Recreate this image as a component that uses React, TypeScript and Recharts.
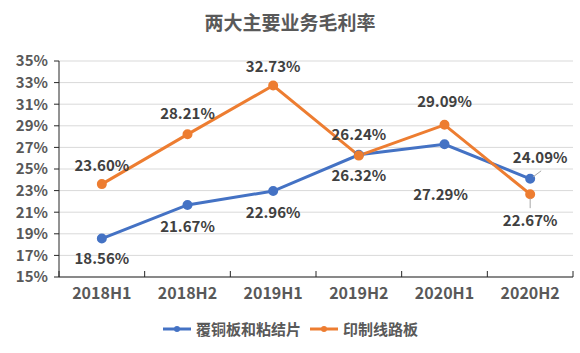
import { CartesianGrid, LabelList, Line, LineChart, XAxis, YAxis } from 'recharts'

const periods = ['2018H1', '2018H2', '2019H1', '2019H2', '2020H1', '2020H2']
const cclMargin = [18.56, 21.67, 22.96, 26.32, 27.29, 24.09]
const pcbMargin = [23.6, 28.21, 32.73, 26.24, 29.09, 22.67]
const yTicks = [15, 17, 19, 21, 23, 25, 27, 29, 31, 33, 35]

const BLUE = '#4472C4'
const ORANGE = '#ED7D31'
const FONT = '"Noto Sans CJK SC", "Noto Sans", sans-serif'

const data = periods.map((p, i) => ({ period: p, ccl: cclMargin[i], pcb: pcbMargin[i] }))

// label offsets per point, tuned to the reference
const pcbOffsets: [number, number][] = [[0, -20], [0, -22], [0, -20], [0, -22], [0, -24], [0, 25]]
const cclOffsets: [number, number][] = [[0, 19], [0, 21], [0, 20], [0, 20], [-4, 49], [10, -22]]

function makeLabel(offsets: [number, number][], leader?: { index: number; d: [number, number, number, number] }) {
  return (props: any) => {
    const { x, y, value, index } = props
    const [dx, dy] = offsets[index] ?? [0, -18]
    return (
      <g>
        {leader && leader.index === index && (
          <line
            x1={x + leader.d[0]}
            y1={y + leader.d[1]}
            x2={x + leader.d[2]}
            y2={y + leader.d[3]}
            stroke="#a6a6a6"
            strokeWidth={1}
          />
        )}
        <text
          x={x + dx}
          y={y + dy}
          textAnchor="middle"
          dominantBaseline="central"
          fill="#404040"
          fontSize={15}
          fontWeight="bold"
          fontFamily={FONT}
        >
          {Number(value).toFixed(2)}%
        </text>
      </g>
    )
  }
}

// category label plus the small upward divider tick at the right edge of each band
function CategoryTick(props: any) {
  const { x, y, payload, index } = props
  const half = payload?.offset ?? 0
  return (
    <g>
      {index === 0 && half > 0 && <line x1={x - half} y1={y - 11} x2={x - half} y2={y - 17} stroke="#262626" />}
      {half > 0 && <line x1={x + half} y1={y - 11} x2={x + half} y2={y - 17} stroke="#262626" />}
      <text
        x={x}
        y={y}
        dy="0.71em"
        textAnchor="middle"
        fill="#595959"
        fontSize={16}
        fontWeight="bold"
        fontFamily={FONT}
      >
        {payload.value}
      </text>
    </g>
  )
}

function LegendItem({ color, label }: { color: string; label: string }) {
  return (
    <div style={{ display: 'flex', alignItems: 'center', gap: 4 }}>
      <svg width={30} height={10}>
        <line x1={1} y1={5} x2={29} y2={5} stroke={color} strokeWidth={3} />
        <circle cx={15} cy={5} r={3} fill={color} />
      </svg>
      <span style={{ fontSize: 15, fontWeight: 'bold', color: '#595959' }}>{label}</span>
    </div>
  )
}

export default function App() {
  return (
    <div style={{ position: 'absolute', left: 0, top: 0, width: 580, height: 353, background: '#fff', fontFamily: FONT }}>
      <div
        style={{
          position: 'absolute',
          top: 8,
          width: 580,
          textAlign: 'center',
          fontSize: 19,
          fontWeight: 'bold',
          color: '#595959',
        }}
      >
        两大主要业务毛利率
      </div>
      <LineChart width={580} height={353} data={data} margin={{ top: 61, right: 7, left: 0, bottom: 46 }}>
        <CartesianGrid vertical={false} stroke="#d9d9d9" />
        <XAxis
          dataKey="period"
          scale="band"
          height={30}
          tickLine={false}
          tickSize={0}
          tickMargin={11}
          axisLine={{ stroke: '#262626' }}
          tick={<CategoryTick />}
        />
        <YAxis
          width={59}
          domain={[15, 35]}
          ticks={yTicks}
          interval={0}
          tickSize={5}
          tickMargin={6}
          tickFormatter={(v: number) => `${v}%`}
          axisLine={{ stroke: '#262626' }}
          tickLine={{ stroke: '#262626' }}
          tick={{ fontSize: 15, fontWeight: 'bold', fill: '#595959', fontFamily: FONT }}
        />
        <Line
          dataKey="ccl"
          name="覆铜板和粘结片"
          stroke={BLUE}
          strokeWidth={3}
          dot={{ r: 3.5, fill: BLUE, stroke: BLUE }}
          isAnimationActive={false}
        >
          <LabelList dataKey="ccl" content={makeLabel(cclOffsets, { index: 5, d: [3, -2, 11, -8] })} />
        </Line>
        <Line
          dataKey="pcb"
          name="印制线路板"
          stroke={ORANGE}
          strokeWidth={3}
          dot={{ r: 3.5, fill: ORANGE, stroke: ORANGE }}
          isAnimationActive={false}
        >
          <LabelList dataKey="pcb" content={makeLabel(pcbOffsets, { index: 5, d: [0, 4, 0, 14] })} />
        </Line>
      </LineChart>
      <div
        style={{
          position: 'absolute',
          top: 318,
          width: 580,
          display: 'flex',
          justifyContent: 'center',
          gap: 8,
        }}
      >
        <LegendItem color={BLUE} label="覆铜板和粘结片" />
        <LegendItem color={ORANGE} label="印制线路板" />
      </div>
    </div>
  )
}
